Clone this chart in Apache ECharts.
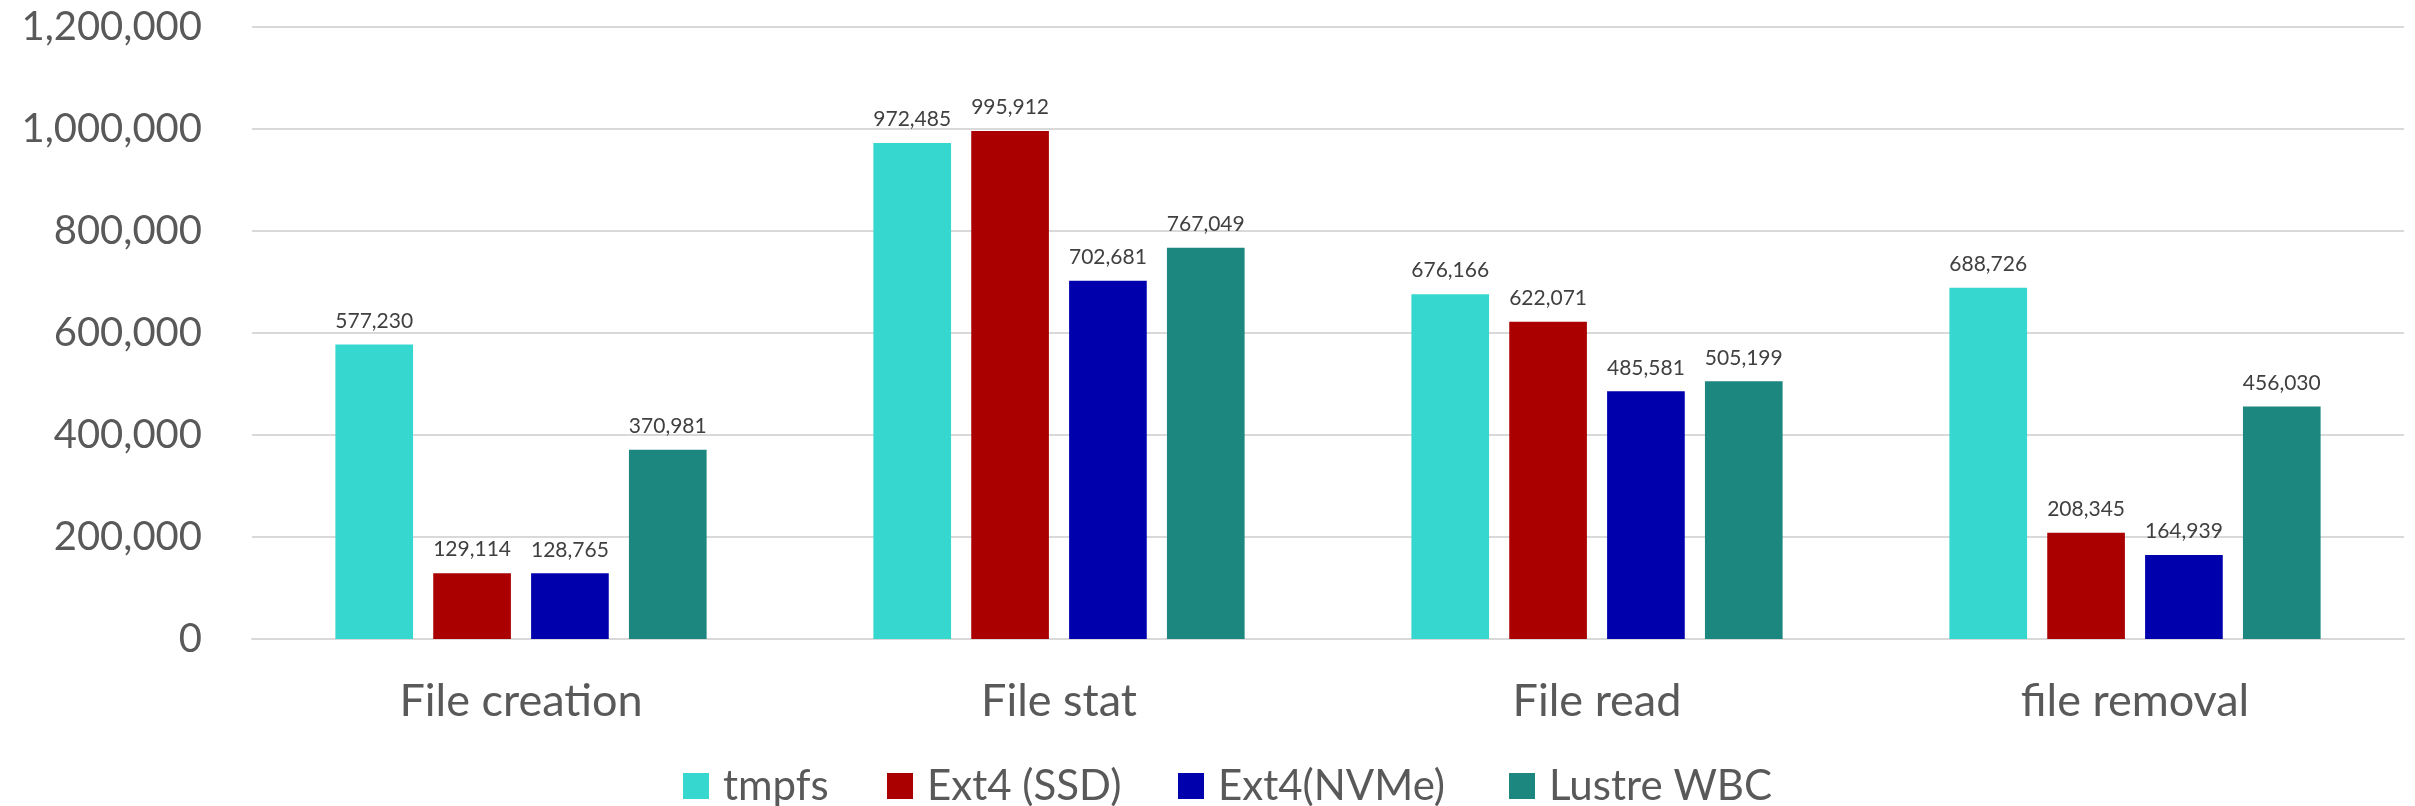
<!DOCTYPE html>
<html>
<head>
<meta charset="utf-8">
<script src="https://cdn.jsdelivr.net/npm/echarts@6/dist/echarts.min.js"></script>
<style>
  html, body { margin: 0; padding: 0; background: #fff; }
  #chart { width: 2415px; height: 806px; }
</style>
</head>
<body>
<div id="chart"></div>
<script>
// Metadata operation throughput per file system
const categories = ['File creation', 'File stat', 'File read', 'file removal'];
const tmpfs = [577230, 972485, 676166, 688726];
const ext4Ssd = [129114, 995912, 622071, 208345];
const ext4Nvme = [128765, 702681, 485581, 164939];
const lustreWbc = [370981, 767049, 505199, 456030];
const seriesNames = ['tmpfs', 'Ext4 (SSD)', 'Ext4(NVMe)', 'Lustre WBC'];
const seriesColors = ['#36D7CF', '#AA0000', '#0000AD', '#1B877F'];
const yTicks = { min: 0, max: 1200000, interval: 200000 };

const FONT = 'Lato';
const fmt = v => Math.round(v).toLocaleString('en-US');

const chart = echarts.init(document.getElementById('chart'), null, { renderer: 'canvas' });

const seriesData = [tmpfs, ext4Ssd, ext4Nvme, lustreWbc];

// one legend block per series so each key sits at its own horizontal slot
const legendLefts = [678, 882, 1173, 1504];
const legends = seriesNames.map((name, i) => ({
  left: legendLefts[i],
  top: 760,
  itemWidth: 26,
  itemHeight: 26,
  icon: 'rect',
  textStyle: { fontFamily: FONT, fontSize: 42, color: '#595959', padding: [0, 0, 0, 9] },
  data: [name]
}));

chart.setOption({
  animation: false,
  backgroundColor: '#ffffff',
  color: seriesColors,
  grid: { left: 252, right: 11, top: 27, bottom: 167, containLabel: false },
  legend: legends,
  xAxis: {
    type: 'category',
    data: categories,
    axisLine: { show: true, lineStyle: { color: '#D9D9D9', width: 2 } },
    axisTick: { show: false },
    axisLabel: { fontFamily: FONT, fontSize: 45, color: '#595959', margin: 40 }
  },
  yAxis: {
    type: 'value',
    min: yTicks.min,
    max: yTicks.max,
    interval: yTicks.interval,
    axisLine: { show: false },
    axisTick: { show: false },
    splitLine: { lineStyle: { color: '#D9D9D9', width: 2 } },
    axisLabel: { fontFamily: FONT, fontSize: 40, color: '#595959', margin: 50, formatter: fmt }
  },
  series: seriesData.map((data, i) => ({
    name: seriesNames[i],
    type: 'bar',
    data: data,
    barGap: '26%',
    barCategoryGap: '31%',
    itemStyle: { color: seriesColors[i] },
    label: {
      show: true,
      position: 'top',
      distance: 13,
      fontFamily: FONT,
      fontSize: 21,
      color: '#404040',
      formatter: p => fmt(p.value)
    }
  }))
});
</script>
</body>
</html>
